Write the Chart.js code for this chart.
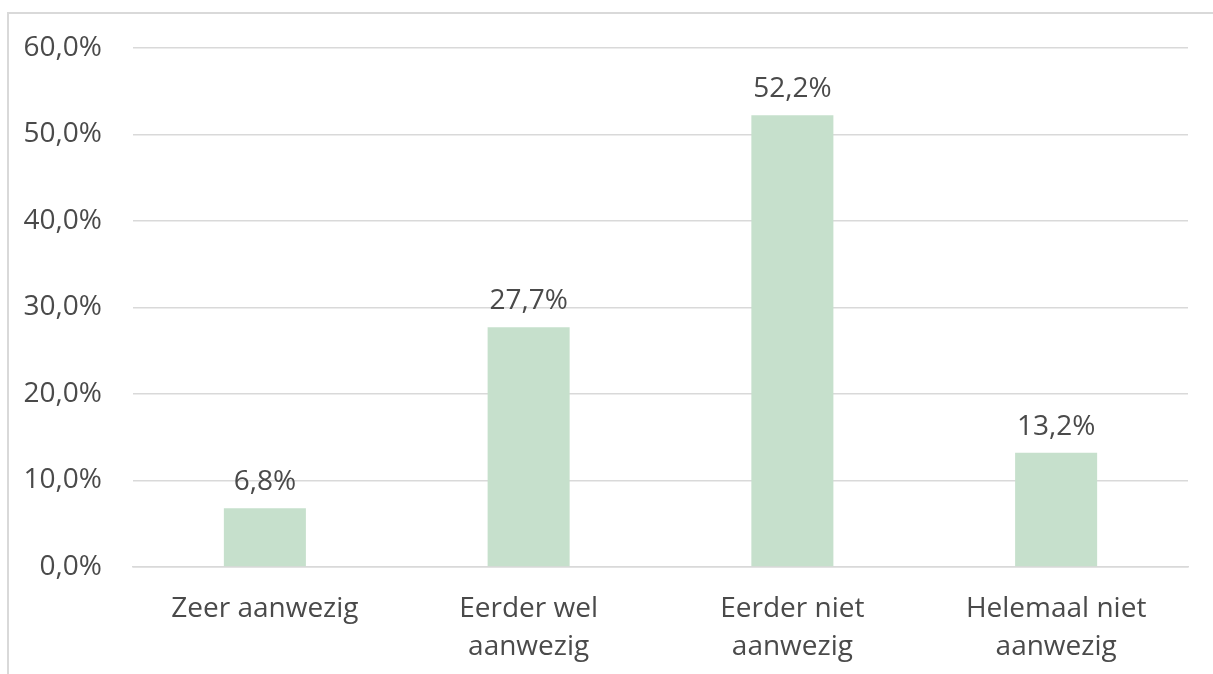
<!DOCTYPE html>
<html>
<head>
<meta charset="utf-8">
<script src="https://cdn.jsdelivr.net/npm/chart.js@4.4.1/dist/chart.umd.min.js"></script>
<style>
  html, body { margin: 0; padding: 0; background: #fff; overflow: hidden; }
  #frame {
    position: absolute; left: 7px; top: 12px; right: -10px; bottom: -10px;
    border-left: 2px solid #d9d9d9; border-top: 2px solid #d9d9d9;
    pointer-events: none;
  }
  #myChart { position: absolute; left: 0; top: 0; }
</style>
</head>
<body>
<div id="frame"></div>
<canvas id="myChart" width="1213" height="674"></canvas>
<script>
const categories = [['Zeer aanwezig'], ['Eerder wel', 'aanwezig'], ['Eerder niet', 'aanwezig'], ['Helemaal niet', 'aanwezig']];
const percentages = [6.8, 27.7, 52.2, 13.2];
const yTicks = [0, 10, 20, 30, 40, 50, 60];

const textColor = '#4a4a4a';
const gridColor = '#d9d9d9';
const fontFamily = "'Open Sans', 'Noto Sans', sans-serif";

const fmt = (v) => v.toFixed(1).replace('.', ',') + '%';

// value labels above each bar
const barLabels = {
    id: 'barLabels',
    afterDatasetsDraw(chart) {
        const c = chart.ctx;
        const meta = chart.getDatasetMeta(0);
        c.save();
        c.font = '28px ' + fontFamily;
        c.fillStyle = textColor;
        c.textAlign = 'center';
        c.textBaseline = 'alphabetic';
        meta.data.forEach((bar, i) => {
            c.fillText(fmt(percentages[i]), bar.x, bar.y - 18);
        });
        c.restore();
    }
};

const ctx = document.getElementById('myChart').getContext('2d');

const myChart = new Chart(ctx, {
    type: 'bar',
    data: {
        labels: categories,
        datasets: [{
            data: percentages,
            backgroundColor: '#c6e0cc',
            borderWidth: 0,
            barPercentage: 0.311,
            categoryPercentage: 1
        }]
    },
    options: {
        responsive: false,
        animation: false,
        layout: {
            padding: { top: 44, right: 25, bottom: 0, left: 0 }
        },
        plugins: {
            legend: { display: false },
            tooltip: { enabled: false },
            title: { display: false }
        },
        scales: {
            y: {
                min: 0,
                max: 60,
                afterFit: (scale) => { scale.width = 133; },
                afterBuildTicks: (scale) => {
                    scale.ticks = yTicks.map(v => ({ value: v }));
                },
                ticks: {
                    padding: 31,
                    color: textColor,
                    font: { family: fontFamily, size: 28 },
                    callback: (value) => fmt(value)
                },
                grid: {
                    color: gridColor,
                    lineWidth: 1.5,
                    drawTicks: false
                },
                border: { display: false }
            },
            x: {
                afterFit: (scale) => { scale.height = 107; },
                ticks: {
                    padding: 23,
                    color: textColor,
                    maxRotation: 0,
                    autoSkip: false,
                    font: { family: fontFamily, size: 28, lineHeight: 1.36 }
                },
                grid: { display: false, drawTicks: false },
                border: { display: true, color: gridColor, width: 1.5 }
            }
        }
    },
    plugins: [barLabels]
});
</script>
</body>
</html>
